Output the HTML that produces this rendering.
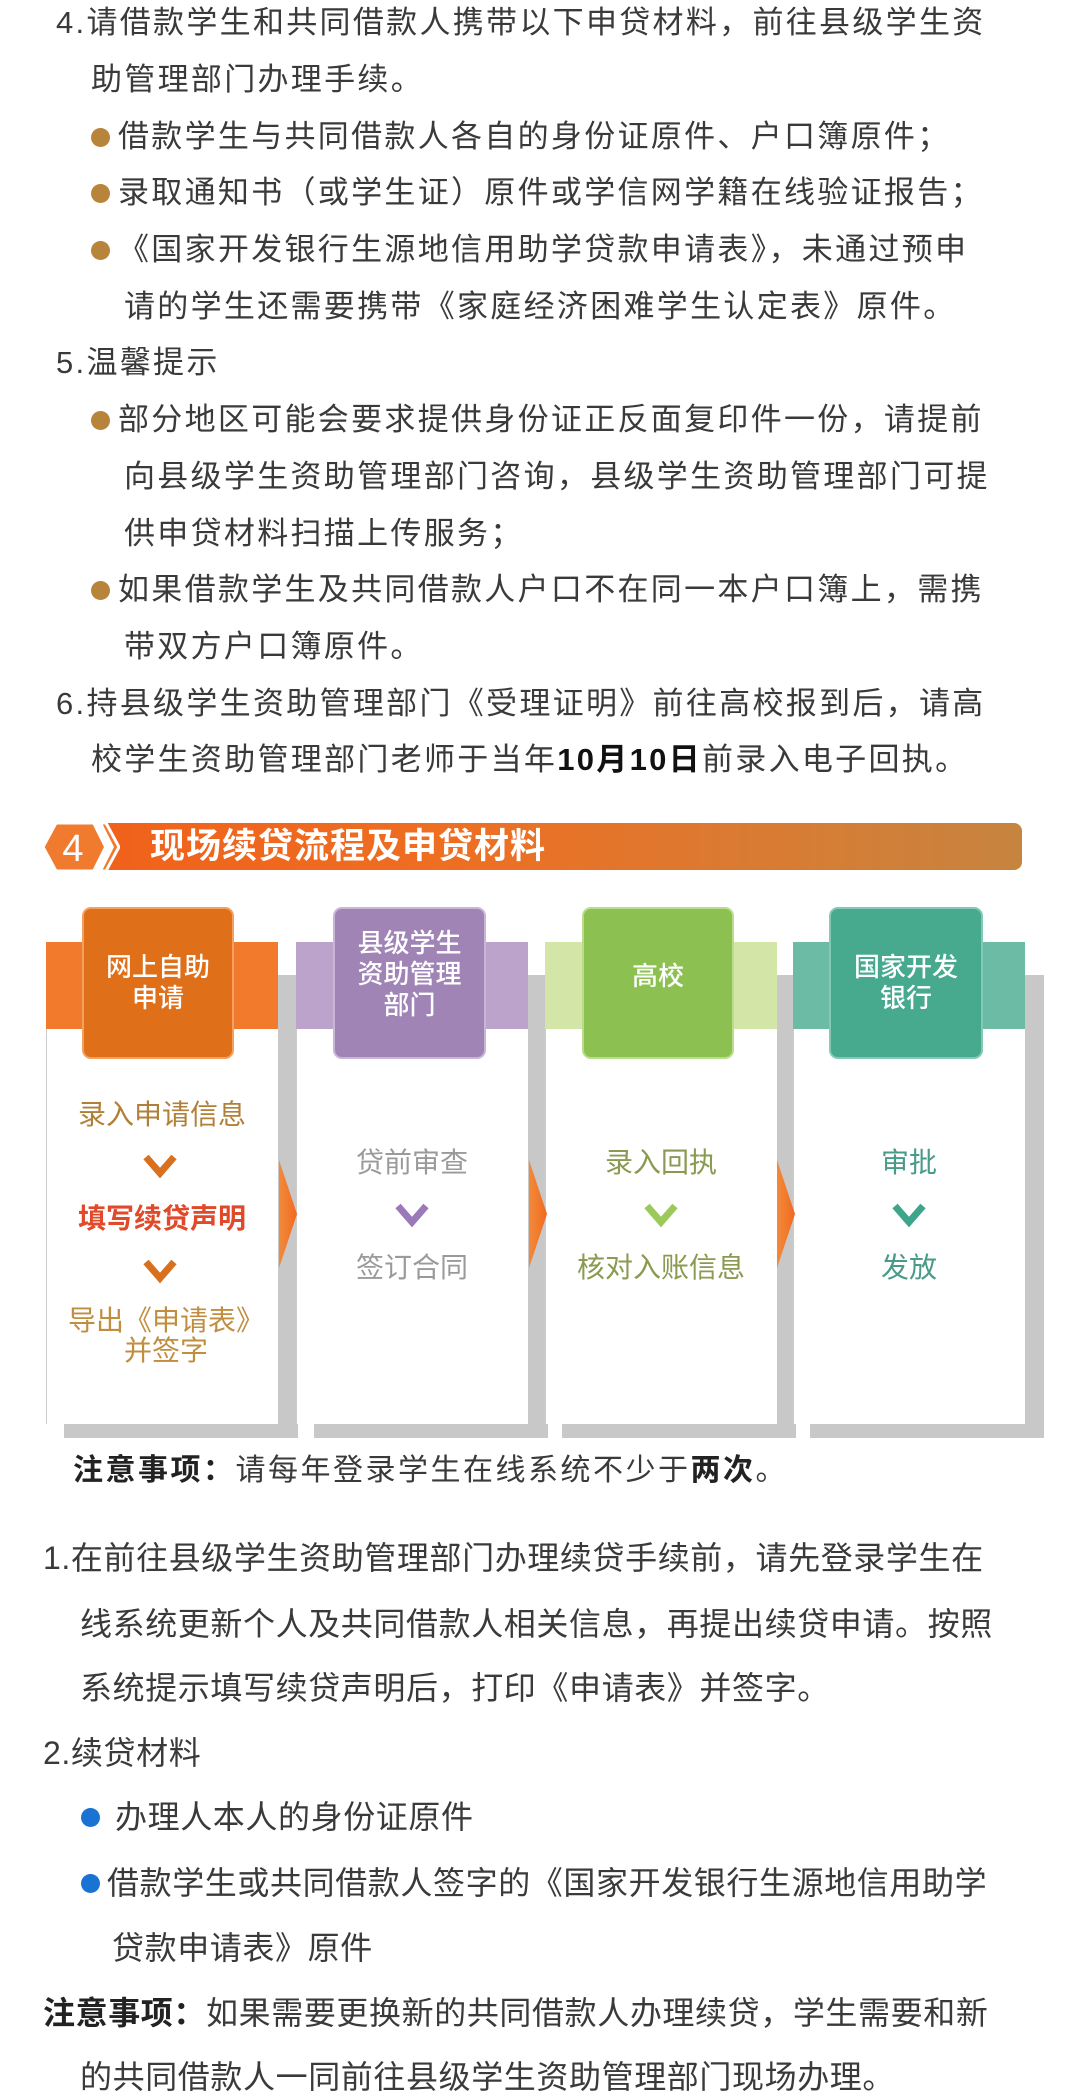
<!DOCTYPE html>
<html><head><meta charset="utf-8"><style>
*{margin:0;padding:0;box-sizing:border-box}
body{width:1080px;height:2099px;background:#fff;position:relative;overflow:hidden;font-family:"Liberation Sans","Noto Sans CJK SC",sans-serif;color:#3a3a3a}
.l{position:absolute;white-space:nowrap;font-size:31px;line-height:40px;height:40px;letter-spacing:2.3px}
.b{font-size:32px;letter-spacing:0.6px}
.dot{position:absolute;width:19px;height:19px;border-radius:50%;background:#b8843c}
.bd{background:#1a73d2}
.pn{position:absolute;background:#fff;border-left:1px solid #ccc}
.sh{position:absolute;background:#c8c8c8}
.bd2{position:absolute}
.hb{position:absolute;border-radius:9px;color:#fff;font-size:26px;line-height:31px;text-align:center;display:flex;align-items:center;justify-content:center;font-weight:500}
.t{position:absolute;text-align:center;font-size:28px;line-height:32px;white-space:nowrap}
.arr{position:absolute;width:18px;height:108px;background:#f08030;clip-path:polygon(0 0,100% 50%,0 100%)}
</style></head><body>
<div class="l" style="left:56px;top:3px">4.请借款学生和共同借款人携带以下申贷材料，前往县级学生资</div>
<div class="l" style="left:91px;top:60px">助管理部门办理手续。</div>
<div class="dot" style="left:91px;top:128px"></div><div class="l" style="left:118px;top:117px">借款学生与共同借款人各自的身份证原件、户口簿原件；</div>
<div class="dot" style="left:91px;top:184px"></div><div class="l" style="left:118px;top:173px">录取通知书（或学生证）原件或学信网学籍在线验证报告；</div>
<div class="dot" style="left:91px;top:241px"></div><div class="l" style="left:118px;top:230px">《国家开发银行生源地信用助学贷款申请表》，未通过预申</div>
<div class="l" style="left:124px;top:287px">请的学生还需要携带《家庭经济困难学生认定表》原件。</div>
<div class="l" style="left:56px;top:343px">5.温馨提示</div>
<div class="dot" style="left:91px;top:411px"></div><div class="l" style="left:118px;top:400px">部分地区可能会要求提供身份证正反面复印件一份，请提前</div>
<div class="l" style="left:124px;top:457px">向县级学生资助管理部门咨询，县级学生资助管理部门可提</div>
<div class="l" style="left:124px;top:514px">供申贷材料扫描上传服务；</div>
<div class="dot" style="left:91px;top:581px"></div><div class="l" style="left:118px;top:570px">如果借款学生及共同借款人户口不在同一本户口簿上，需携</div>
<div class="l" style="left:124px;top:627px">带双方户口簿原件。</div>
<div class="l" style="left:56px;top:684px">6.持县级学生资助管理部门《受理证明》前往高校报到后，请高</div>
<div class="l" style="left:91px;top:740px">校学生资助管理部门老师于当年<b style="color:#111">10月10日</b>前录入电子回执。</div>

<div style="position:absolute;left:60px;top:823px;width:962px;height:47px;border-radius:0 8px 8px 0;background:linear-gradient(90deg,#f0601a 0%,#ee6e22 40%,#d87c34 75%,#c6843f 100%)"></div>
<svg style="position:absolute;left:40px;top:820px" width="80" height="54"><polygon points="3,27 16,3 66,3 79,27 66,51 16,51" fill="#f07a2e" stroke="#fff" stroke-width="3"/><polygon points="52,3 62,3 74,27 62,51 52,51 64,27" fill="#fff"/><text x="33" y="41" font-size="38" fill="#fff" text-anchor="middle" font-family="Liberation Sans">4</text></svg>
<div style="position:absolute;left:150px;top:826px;font-size:35px;line-height:42px;color:#fff;font-weight:bold;letter-spacing:1px;white-space:nowrap">现场续贷流程及申贷材料</div>

<div class="sh" style="left:64px;top:975px;width:234px;height:463px"></div>
<div class="sh" style="left:314px;top:975px;width:234px;height:463px"></div>
<div class="sh" style="left:562px;top:975px;width:234px;height:463px"></div>
<div class="sh" style="left:810px;top:975px;width:234px;height:463px"></div>
<div class="pn" style="left:46px;top:942px;width:232px;height:482px"></div>
<div class="pn" style="left:296px;top:942px;width:232px;height:482px"></div>
<div class="pn" style="left:545px;top:942px;width:232px;height:482px"></div>
<div class="pn" style="left:793px;top:942px;width:232px;height:482px"></div>
<div class="bd2" style="left:46px;top:942px;width:232px;height:87px;background:#f27a2c"></div>
<div class="bd2" style="left:296px;top:942px;width:232px;height:87px;background:#bba3cc"></div>
<div class="bd2" style="left:545px;top:942px;width:232px;height:87px;background:#d3e6a8"></div>
<div class="bd2" style="left:793px;top:942px;width:232px;height:87px;background:#6cbca5"></div>
<div class="hb" style="left:82px;top:907px;width:152px;height:152px;background:#df6f19;border:2px solid #f4a060"><div>网上自助<br>申请</div></div>
<div class="hb" style="left:333px;top:907px;width:153px;height:152px;background:#a084b6;border:2px solid #c9b5d6"><div style="margin-top:-18px">县级学生<br>资助管理<br>部门</div></div>
<div class="hb" style="left:582px;top:907px;width:152px;height:152px;background:#8cc152;border:2px solid #b9dc8d"><div style="margin-top:-14px">高校</div></div>
<div class="hb" style="left:829px;top:907px;width:154px;height:152px;background:#47a98e;border:2px solid #84c9b5"><div>国家开发<br>银行</div></div>
<div class="arr" style="left:279px;top:1160px;background:linear-gradient(90deg,#f28a3a,#f06a20)"></div>
<div class="arr" style="left:529px;top:1160px;background:linear-gradient(90deg,#f28a3a,#f06a20)"></div>
<div class="arr" style="left:777px;top:1160px;background:linear-gradient(90deg,#f28a3a,#f06a20)"></div>

<div class="t" style="left:46px;width:232px;top:1099px;color:#b08038">录入申请信息</div>
<svg style="position:absolute;left:142px;top:1153px" width="36" height="26"><polyline points="4,4 18,20 32,4" fill="none" stroke="#d9701e" stroke-width="7"/></svg>
<div class="t" style="left:46px;width:232px;top:1203px;color:#e04a2a;font-weight:bold">填写续贷声明</div>
<svg style="position:absolute;left:142px;top:1258px" width="36" height="26"><polyline points="4,4 18,20 32,4" fill="none" stroke="#d9701e" stroke-width="7"/></svg>
<div class="t" style="left:46px;width:240px;top:1306px;color:#c08e3e;line-height:30px">导出《申请表》<br>并签字</div>

<div class="t" style="left:296px;width:232px;top:1147px;color:#9a9a9a">贷前审查</div>
<svg style="position:absolute;left:394px;top:1202px" width="36" height="26"><polyline points="4,4 18,20 32,4" fill="none" stroke="#9a7ab8" stroke-width="7"/></svg>
<div class="t" style="left:296px;width:232px;top:1252px;color:#9a9a9a">签订合同</div>

<div class="t" style="left:545px;width:232px;top:1147px;color:#8a9a50">录入回执</div>
<svg style="position:absolute;left:643px;top:1202px" width="36" height="26"><polyline points="4,4 18,20 32,4" fill="none" stroke="#9bc95a" stroke-width="7"/></svg>
<div class="t" style="left:545px;width:232px;top:1252px;color:#8a9a50">核对入账信息</div>

<div class="t" style="left:793px;width:232px;top:1147px;color:#4a9a88">审批</div>
<svg style="position:absolute;left:891px;top:1202px" width="36" height="26"><polyline points="4,4 18,20 32,4" fill="none" stroke="#3fa58a" stroke-width="7"/></svg>
<div class="t" style="left:793px;width:232px;top:1252px;color:#4a9a88">发放</div>

<div class="l" style="left:73px;top:1451px;font-size:30px;letter-spacing:2.5px"><b style="color:#222">注意事项：</b>请每年登录学生在线系统不少于<b style="color:#222">两次</b>。</div>

<div class="l b" style="left:43px;top:1538px">1.在前往县级学生资助管理部门办理续贷手续前，请先登录学生在</div>
<div class="l b" style="left:80px;top:1604px">线系统更新个人及共同借款人相关信息，再提出续贷申请。按照</div>
<div class="l b" style="left:80px;top:1668px">系统提示填写续贷声明后，打印《申请表》并签字。</div>
<div class="l b" style="left:43px;top:1733px">2.续贷材料</div>
<div class="dot bd" style="left:81px;top:1808px"></div><div class="l b" style="left:115px;top:1797px">办理人本人的身份证原件</div>
<div class="dot bd" style="left:81px;top:1874px"></div><div class="l b" style="left:107px;top:1863px">借款学生或共同借款人签字的《国家开发银行生源地信用助学</div>
<div class="l b" style="left:112px;top:1928px">贷款申请表》原件</div>
<div class="l b" style="left:43px;top:1993px"><b style="color:#222">注意事项：</b>如果需要更换新的共同借款人办理续贷，学生需要和新</div>
<div class="l b" style="left:80px;top:2057px">的共同借款人一同前往县级学生资助管理部门现场办理。</div>
</body></html>
